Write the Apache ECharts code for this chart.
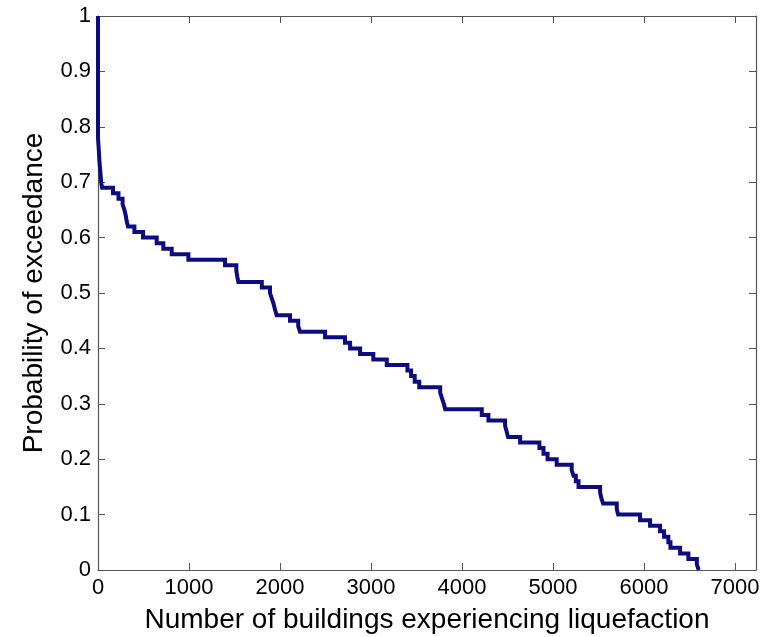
<!DOCTYPE html>
<html>
<head>
<meta charset="utf-8">
<script src="https://cdn.jsdelivr.net/npm/echarts@6/dist/echarts.min.js"></script>
<style>
  html, body { margin: 0; padding: 0; background: #ffffff; }
  #chart { width: 771px; height: 637px; }
</style>
</head>
<body>
<div id="chart"></div>
<script>
// Exceedance curve: building count where each drop happens, and the level after the drop
const buildings = [
  0, 0, 8, 15, 25, 35, 45, 165, 225, 270, 290, 305, 315, 330, 400, 495,
  645, 718, 810, 993, 1396, 1520, 1530, 1542, 1800, 1890, 1910, 1930, 1945, 1963,
  2110, 2200, 2220, 2495, 2714, 2770, 2880, 3025, 3173, 3400, 3440, 3480, 3530,
  3760, 3780, 3800, 3815, 4217, 4290, 4473, 4490, 4506, 4638, 4850, 4895, 4940,
  5040, 5205, 5225, 5250, 5280, 5517, 5530, 5550, 5700, 5715, 5956, 6066, 6176,
  6220, 6267, 6290, 6396, 6487, 6580, 6600
];
const exceedance = [
  1.00, 0.78, 0.76, 0.74, 0.72, 0.70, 0.69, 0.68, 0.67, 0.66, 0.65, 0.64, 0.63, 0.62, 0.61, 0.60,
  0.59, 0.58, 0.57, 0.56, 0.55, 0.54, 0.53, 0.52, 0.51, 0.50, 0.49, 0.48, 0.47, 0.46,
  0.45, 0.44, 0.43, 0.42, 0.41, 0.40, 0.39, 0.38, 0.37, 0.36, 0.35, 0.34, 0.33,
  0.32, 0.31, 0.30, 0.29, 0.28, 0.27, 0.26, 0.25, 0.24, 0.23, 0.22, 0.21, 0.20,
  0.19, 0.18, 0.17, 0.16, 0.15, 0.14, 0.13, 0.12, 0.11, 0.10, 0.09, 0.08, 0.07,
  0.06, 0.05, 0.04, 0.03, 0.02, 0.01, 0.00
];

const xMin = 0, xMax = 7230, xStep = 1000;
const yMin = 0, yMax = 1, yStep = 0.1;
const xTitle = 'Number of buildings experiencing liquefaction';
const yTitle = 'Probability of exceedance';

const FONT = "'Liberation Sans', Arial, Helvetica, sans-serif";
const frameColor = '#555555';

const curve = buildings.map((b, i) => [b, exceedance[i]]);

function xLabel(v) {
  return (Math.abs(v % xStep) < 1e-6) ? String(v) : '';
}
function yLabel(v) {
  return String(Math.round(v * 10) / 10);
}

const tickStyle = { show: true, inside: true, length: 7, lineStyle: { color: frameColor, width: 1 } };
const frameLine = { show: true, onZero: false, lineStyle: { color: frameColor, width: 1.2 } };

const chart = echarts.init(document.getElementById('chart'), null, { renderer: 'canvas' });
chart.setOption({
  animation: false,
  backgroundColor: '#ffffff',
  grid: { left: 98, right: 15, top: 16, bottom: 67, containLabel: false, outerBoundsMode: 'none' },
  xAxis: [
    {
      type: 'value', position: 'bottom', min: xMin, max: xMax, interval: xStep,
      axisLine: frameLine, axisTick: tickStyle, splitLine: { show: false },
      axisLabel: { formatter: xLabel, color: '#000', fontSize: 22, fontFamily: FONT, margin: 7, showMaxLabel: false },
      name: xTitle, nameLocation: 'middle', nameGap: 36,
      nameTextStyle: { color: '#000', fontSize: 28, fontFamily: FONT }
    },
    {
      type: 'value', position: 'top', min: xMin, max: xMax, interval: xStep,
      axisLine: frameLine, axisTick: tickStyle, splitLine: { show: false },
      axisLabel: { show: false }
    }
  ],
  yAxis: [
    {
      type: 'value', position: 'left', min: yMin, max: yMax, interval: yStep,
      axisLine: frameLine, axisTick: tickStyle, splitLine: { show: false },
      axisLabel: { formatter: yLabel, color: '#000', fontSize: 22, fontFamily: FONT, margin: 7 },
      name: yTitle, nameLocation: 'middle', nameGap: 50,
      nameTextStyle: { color: '#000', fontSize: 28, fontFamily: FONT }
    },
    {
      type: 'value', position: 'right', min: yMin, max: yMax, interval: yStep,
      axisLine: frameLine, axisTick: tickStyle, splitLine: { show: false },
      axisLabel: { show: false }
    }
  ],
  series: [
    {
      type: 'line',
      xAxisIndex: 0,
      yAxisIndex: 0,
      data: curve,
      step: 'end',
      showSymbol: false,
      clip: false,
      lineStyle: { color: '#0c0c80', width: 4, join: 'miter' }
    }
  ]
});
</script>
</body>
</html>
